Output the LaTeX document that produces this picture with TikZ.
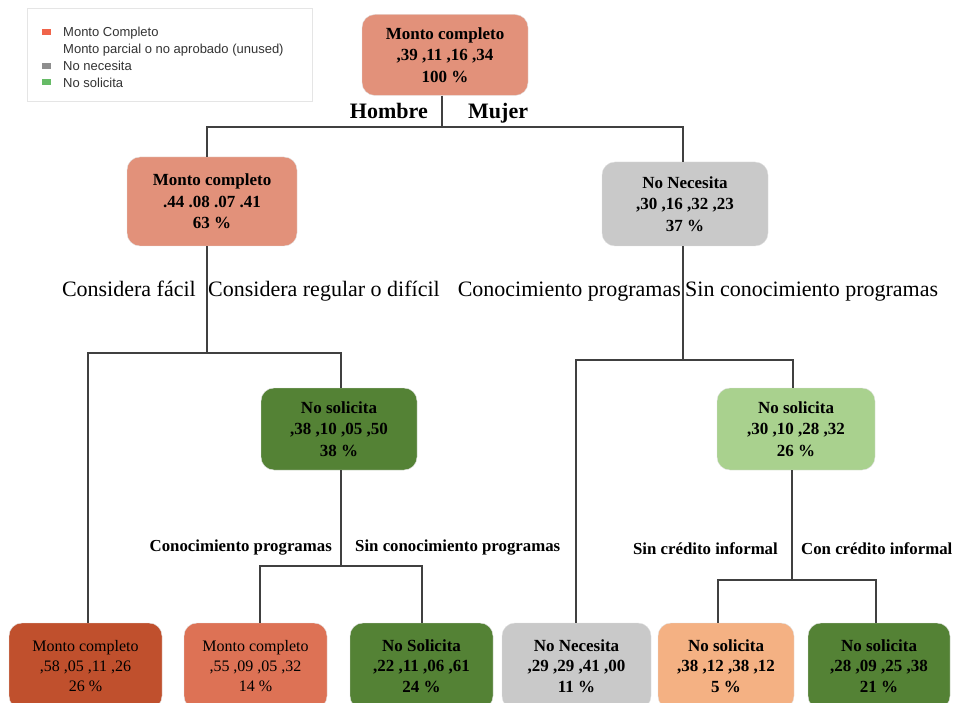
\documentclass[tikz,border=0pt]{standalone}
\usepackage{fontspec}
\setmainfont{Liberation Serif}
\newfontfamily\leyendafont{Liberation Sans}
\usepackage{tikz}
\usetikzlibrary{shadows}
\usetikzlibrary{positioning}
\definecolor{salmon}{RGB}{226,145,122}
\definecolor{rojizo}{RGB}{192,80,45}
\definecolor{naranja}{RGB}{221,114,85}
\definecolor{verdeosc}{RGB}{84,130,53}
\definecolor{verdecla}{RGB}{169,209,142}
\definecolor{grisnn}{RGB}{201,201,201}
\definecolor{durazno}{RGB}{244,177,131}
\definecolor{leyrojo}{RGB}{240,100,74}
\definecolor{leygris}{RGB}{142,142,142}
\definecolor{leyverde}{RGB}{102,187,102}
\tikzset{
  >=latex,
  rama/.style={draw=black!75, line width=1.2pt},
  cuadro/.style={rectangle, minimum width=9pt, minimum height=6pt, inner sep=0pt}
}

\begin{document}
\begin{tikzpicture}[x=1pt, y=1pt]
    % Estilos
    \tikzstyle{caja} = [rectangle, draw=black!12, rounded corners=13pt, align=center, inner sep=0pt, font=\bfseries\fontsize{17}{21.5}\selectfont]
    \tikzstyle{hoja} = [caja, minimum height=86pt, font=\bfseries\fontsize{17}{20.5}\selectfont]
    \tikzstyle{hojafina} = [hoja, font=\fontsize{16}{20}\selectfont]
    \tikzstyle{etiq} = [inner sep=0pt, font=\fontsize{22}{26}\selectfont]
    \tikzstyle{etiqb} = [inner sep=0pt, font=\bfseries\fontsize{22}{26}\selectfont]
    \tikzstyle{etiqc} = [inner sep=0pt, font=\bfseries\fontsize{16.8}{20}\selectfont]
    \tikzstyle{textoley} = [inner sep=0pt, anchor=base west, text=black!80, font=\leyendafont\fontsize{13}{15}\selectfont]

    \useasboundingbox (0,0) rectangle (958,-703);

    % Leyenda
    \node [draw=black!10, fill=white, minimum width=285pt, minimum height=93pt, drop shadow={opacity=0.12, shadow xshift=1pt, shadow yshift=-1.5pt}] (leyenda) at (169.5,-54.5) {};
    \node [cuadro, fill=leyrojo] (c1) at (46.5,-32.5) {};
    \node [textoley] (t1) at (63,-37) {Monto Completo};
    \node [textoley] (t2) at (63,-54) {Monto parcial o no aprobado (unused)};
    \node [cuadro, fill=leygris] (c3) at (46.5,-66.5) {};
    \node [textoley] (t3) at (63,-71) {No necesita};
    \node [cuadro, fill=leyverde] (c4) at (46.5,-82.5) {};
    \node [textoley] (t4) at (63,-87.5) {No solicita};

    % Nodos
    \node [caja, fill=salmon, minimum width=166pt, minimum height=81pt] (raiz) at (445,-55) {Monto completo\\,39 ,11 ,16 ,34\\100 \%};
    \node [caja, fill=salmon, minimum width=170pt, minimum height=89pt, below of=raiz, node distance=146.5pt, xshift=-233pt] (hombre) {Monto completo\\.44 .08 .07 .41\\63 \%};
    \node [caja, fill=grisnn, minimum width=166pt, minimum height=84pt, below of=raiz, node distance=149pt, xshift=240pt] (mujer) {No Necesita\\,30 ,16 ,32 ,23\\37 \%};
    \node [caja, fill=verdeosc, minimum width=156pt, minimum height=82pt, below of=hombre, node distance=227.5pt, xshift=127pt] (regular) {No solicita\\,38 ,10 ,05 ,50\\38 \%};
    \node [caja, fill=verdecla, minimum width=158pt, minimum height=82pt, below of=mujer, node distance=225pt, xshift=111pt] (sinprog) {No solicita\\,30 ,10 ,28 ,32\\26 \%};
    \node [hojafina, fill=rojizo, minimum width=153pt, below of=hombre, node distance=464.5pt, xshift=-126.5pt] (facil) {Monto completo\\,58 ,05 ,11 ,26\\26 \%};
    \node [hojafina, fill=naranja, minimum width=143pt, below of=regular, node distance=237pt, xshift=-83.5pt] (regprog) {Monto completo\\,55 ,09 ,05 ,32\\14 \%};
    \node [hoja, fill=verdeosc, minimum width=143pt, below of=regular, node distance=237pt, xshift=82.5pt] (regsinprog) {No Solicita\\,22 ,11 ,06 ,61\\24 \%};
    \node [hoja, fill=grisnn, minimum width=149pt, below of=mujer, node distance=462pt, xshift=-108.5pt] (conprog) {No Necesita\\,29 ,29 ,41 ,00\\11 \%};
    \node [hoja, fill=durazno, minimum width=136pt, below of=sinprog, node distance=237pt, xshift=-70pt] (sincred) {No solicita\\,38 ,12 ,38 ,12\\5 \%};
    \node [hoja, fill=verdeosc, minimum width=142pt, below of=sinprog, node distance=237pt, xshift=83pt] (concred) {No solicita\\,28 ,09 ,25 ,38\\21 \%};

    % Ramas
    \coordinate (s0) at (442,-127);
    \coordinate (s0a) at (207,-127);
    \coordinate (s0b) at (683,-127);
    \draw [rama] (s0 |- raiz.south) -- (s0);
    \draw [rama] (s0a |- hombre.north) -- (s0a) -- (s0b) -- (s0b |- mujer.north);

    \coordinate (s1) at (207,-353);
    \coordinate (s1a) at (88,-353);
    \coordinate (s1b) at (341,-353);
    \draw [rama] (s1 |- hombre.south) -- (s1);
    \draw [rama] (s1a |- facil.north) -- (s1a) -- (s1b) -- (s1b |- regular.north);

    \coordinate (s2) at (683,-360);
    \coordinate (s2a) at (576,-360);
    \coordinate (s2b) at (793,-360);
    \draw [rama] (s2 |- mujer.south) -- (s2);
    \draw [rama] (s2a |- conprog.north) -- (s2a) -- (s2b) -- (s2b |- sinprog.north);

    \coordinate (s3) at (341,-566);
    \coordinate (s3a) at (260,-566);
    \coordinate (s3b) at (422,-566);
    \draw [rama] (s3 |- regular.south) -- (s3);
    \draw [rama] (s3a |- regprog.north) -- (s3a) -- (s3b) -- (s3b |- regsinprog.north);

    \coordinate (s4) at (792,-580);
    \coordinate (s4a) at (718,-580);
    \coordinate (s4b) at (876,-580);
    \draw [rama] (s4 |- sinprog.south) -- (s4);
    \draw [rama] (s4a |- sincred.north) -- (s4a) -- (s4b) -- (s4b |- concred.north);

    % Etiquetas
    \node [etiqb, anchor=base east] (lhombre) at (428,-119) {Hombre};
    \node [etiqb, anchor=base west] (lmujer) at (468,-119) {Mujer};
    \node [etiq, anchor=base east] (lfacil) at (196,-297) {Considera fácil};
    \node [etiq, anchor=base west] (lregular) at (208,-297) {Considera regular o difícil};
    \node [etiq, anchor=base east] (lprog) at (681,-297) {Conocimiento programas};
    \node [etiq, anchor=base west] (lsinprog) at (685,-297) {Sin conocimiento programas};
    \node [etiqc, anchor=base east] (lprog2) at (332,-551) {Conocimiento programas};
    \node [etiqc, anchor=base west] (lsinprog2) at (355,-551) {Sin conocimiento programas};
    \node [etiqc, anchor=base east] (lsincred) at (778,-554) {Sin crédito informal};
    \node [etiqc, anchor=base west] (lconcred) at (801,-554) {Con crédito informal};
\end{tikzpicture}
\end{document}
